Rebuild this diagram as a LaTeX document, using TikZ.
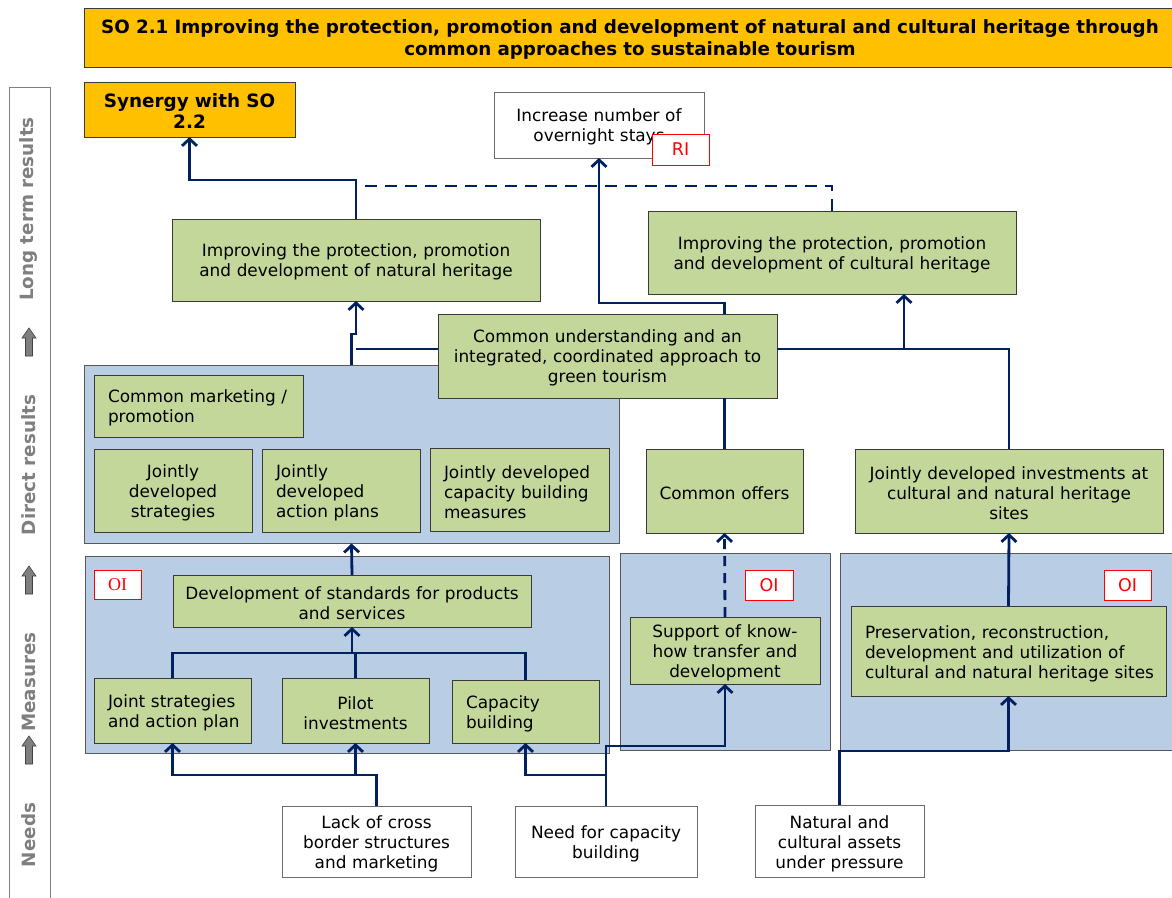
\documentclass[tikz,border=0pt]{standalone}
\usepackage{fontspec}
\setmainfont{DejaVu Sans}
\newfontfamily\tagserif{Liberation Serif}
\usetikzlibrary{arrows.meta}
\definecolor{navy}{HTML}{002060}
\definecolor{leaf}{HTML}{C4D79B}
\definecolor{panel}{HTML}{B9CDE5}
\definecolor{gold}{HTML}{FFC000}
\definecolor{edge}{HTML}{3A3A3A}
\definecolor{sidegrey}{HTML}{7F7F7F}
\begin{document}
\begin{tikzpicture}[x=1pt,y=-1pt,
  font=\fontsize{16.9}{20}\selectfont,
  base/.style={draw=edge, line width=1pt, inner sep=0pt, outer sep=0pt,
    execute at begin node={\rule{0pt}{17.5pt}}},
  bx/.style 2 args={align=center, inner xsep=4pt, text width=#1pt-8pt,
    minimum width=#1pt, minimum height=#2pt},
  lft/.style 2 args={align=left, inner xsep=14pt, text width=#1pt-28pt,
    minimum width=#1pt, minimum height=#2pt},
  leafbox/.style={base, fill=leaf},
  whitebox/.style={base, fill=white, draw=edge!75},
  panelbox/.style={draw=edge!85, line width=1pt, fill=panel, inner sep=0pt,
    minimum width=#1},
  goldbox/.style={base, fill=gold, font=\fontsize{18.3}{22}\selectfont\bfseries},
  tag/.style={draw=red, fill=white, text=red, line width=0.8pt, inner sep=0pt,
    font=\fontsize{17.5}{18}\selectfont},
  side/.style={rotate=90, text=sidegrey, font=\fontsize{18.3}{20}\selectfont\bfseries},
  link/.style={draw=navy, line width=2.8pt},
  arr/.style={link, -{Straight Barb[length=7pt,width=15pt]}},
  longdash/.style={dash pattern=on 12pt off 8pt},
  shortdash/.style={dash pattern=on 10pt off 7pt},
]
\useasboundingbox (0,0) rectangle (1172,897);
\clip (0,0) rectangle (1172,897);

% side bar with the four levels
\node[draw=sidegrey, line width=1pt, fill=white, inner sep=0pt,
  minimum width=41pt, minimum height=820pt, anchor=north west] (bar) at (9,87) {};
\node[side] (l1) at (29,209) {Long term results};
\node[side] (l2) at (29,465) {Direct results};
\node[side] (l3) at (29,682) {Measures};
\node[side] (l4) at (29,835) {Needs};
\foreach \c in {342,580,750}
  \filldraw[fill=sidegrey, draw=black!75, line width=0.6pt]
    (29,\c-14) -- (36,\c-4) -- (32.5,\c-4) -- (32.5,\c+14) -- (25.5,\c+14) -- (25.5,\c-4) -- (22,\c-4) -- cycle;

% headline and long term results
\node[goldbox, bx={1092}{59}] (title) at (630,37.5)
  {SO 2.1 Improving the protection, promotion and development of natural and cultural heritage through\\common approaches to sustainable tourism};
\node[goldbox, bx={211}{55}, font=\fontsize{18.4}{21}\selectfont\bfseries] (syn) at (189.5,109.5) {Synergy with SO\\2.2};
\node[whitebox, bx={210}{66}] (inc) at (599,125) {Increase number of\\overnight stays};
\node[tag, minimum width=57pt, minimum height=31pt] (ri) at (680.5,149.5) {RI};
\node[leafbox, bx={368}{82}] (nat) at (356,260)
  {Improving the protection, promotion\\and development of natural heritage};
\node[leafbox, bx={368}{83}] (cul) at (832,252.5)
  {Improving the protection, promotion\\and development of cultural heritage};

% direct results
\node[panelbox=535pt, minimum height=178pt] (dpanel) at (351.5,454) {};
\node[leafbox, bx={339}{84}] (cu) at (607.5,356)
  {Common understanding and an\\integrated, coordinated approach to\\green tourism};
\node[leafbox, lft={209}{62}] (cm) at (198.5,406) {\mbox{Common marketing /}\\promotion};
\node[leafbox, bx={158}{83}] (js) at (173,490.5) {Jointly\\developed\\strategies};
\node[leafbox, lft={158}{83}] (jap) at (341,490.5) {Jointly\\developed\\action plans};
\node[leafbox, lft={179}{83}] (jcb) at (519.5,489.5) {\mbox{Jointly developed}\\\mbox{capacity building}\\measures};
\node[leafbox, bx={157}{84}] (co) at (724.5,491) {Common offers};
\node[leafbox, bx={308}{84}] (jdi) at (1009,491)
  {Jointly developed investments at\\cultural and natural heritage\\sites};

% measures
\node[panelbox=524pt, minimum height=197pt] (mp1) at (347,654.5) {};
\node[panelbox=210pt, minimum height=197pt] (mp2) at (725,651.5) {};
\node[panelbox=340pt, minimum height=197pt] (mp3) at (1010,651.5) {};
\node[tag, minimum width=47pt, minimum height=29pt, font=\fontsize{18}{18}\selectfont\tagserif] (oi1) at (117.5,584.5) {OI};
\node[tag, minimum width=48pt, minimum height=30pt] (oi2) at (769,585) {OI};
\node[tag, minimum width=47pt, minimum height=30pt] (oi3) at (1127.5,585) {OI};
\node[leafbox, bx={358}{52}] (ds) at (352,601) {Development of standards for products\\and services};
\node[leafbox, lft={157}{65}] (jsa) at (172.5,710.5) {\mbox{Joint strategies}\\\mbox{and action plan}};
\node[leafbox, bx={147}{65}] (pi) at (355.5,710.5) {Pilot\\investments};
\node[leafbox, lft={147}{63}, inner xsep=13pt] (cb) at (525.5,711.5) {Capacity\\building};
\node[leafbox, bx={190}{67}] (sk) at (725,650.5) {Support of know-\\how transfer and\\development};
\node[leafbox, lft={315}{90}] (pr) at (1008.5,651)
  {\mbox{Preservation, reconstruction,}\\\mbox{development and utilization of}\\\mbox{cultural and natural heritage sites}};

% needs
\node[whitebox, bx={189}{71}] (lack) at (376.5,841.5) {Lack of cross\\border structures\\and marketing};
\node[whitebox, bx={182}{71}] (need) at (606,841.5) {Need for capacity\\building};
\node[whitebox, bx={169}{72}] (na) at (839.5,841) {Natural and\\cultural assets\\under pressure};

% routing levels
\coordinate (ysyn) at (0,180);
\coordinate (ydash) at (0,186);
\coordinate (yinc) at (0,303);
\coordinate (yjog) at (0,334);
\coordinate (kcul) at (904,349);
\coordinate (tree) at (352,653);
\coordinate (ylow) at (0,775);
\coordinate (yks) at (0,746);
\coordinate (ypr) at (0,751);

% links between the levels
\draw[arr] (nat.north) -- (nat.north |- ysyn) -| (syn.south);
\draw[link, longdash] (cul.north) |- (nat.north |- ydash);
\draw[link] (co.north) -- (co.north |- cu.south);
\draw[arr] (co.north |- cu.north) -- (co.north |- yinc) -| (inc.south);
\draw[arr] (dpanel.north) -- (dpanel.north |- yjog) -- (nat.south |- yjog) -- (nat.south);
\draw[link] ([yshift=7pt]cu.west) -- ([yshift=7pt]cu.west -| nat.south);
\draw[link] (jdi.north) |- ([yshift=7pt]cu.east);
\draw[arr] (kcul) -- (kcul |- cul.south);
\draw[arr, shortdash] (sk.north) -- (co.south);
\draw[arr] (pr.north) -- (jdi.south);
\draw[arr] (ds.north) -- (dpanel.south);
\draw[link] (jsa.north) -- (jsa.north |- tree) -- (cb.north |- tree) -- (cb.north);
\draw[link] (pi.north) -- (pi.north |- tree);
\draw[arr] (tree) -- (ds.south);
\draw[arr] (lack.north) -- (lack.north |- ylow) -| (jsa.south);
\draw[arr] (pi.south |- ylow) -- (pi.south);
\draw[arr] (need.north) -- (need.north |- ylow) -| (cb.south);
\draw[arr] (need.north |- ylow) -- (need.north |- yks) -| (sk.south);
\draw[arr] (na.north) -- (na.north |- ypr) -| (pr.south);
\end{tikzpicture}
\end{document}
